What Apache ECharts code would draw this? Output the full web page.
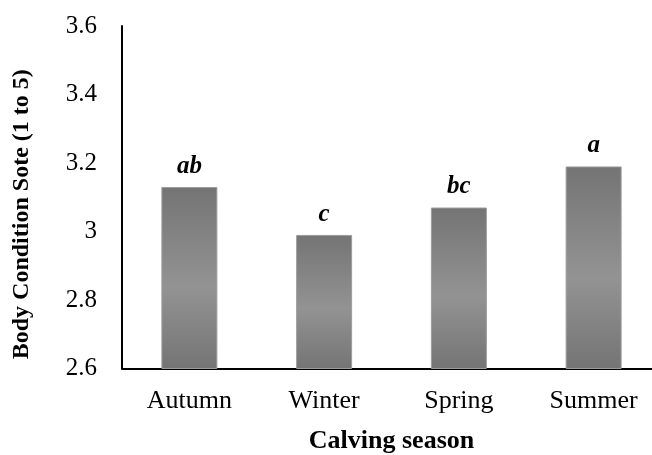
<!DOCTYPE html>
<html>
<head>
<meta charset="utf-8">
<script src="https://cdn.jsdelivr.net/npm/echarts@6/dist/echarts.min.js"></script>
<style>
  html, body { margin: 0; padding: 0; background: #fff; }
  #chart { width: 652px; height: 455px; }
</style>
</head>
<body>
<div id="chart"></div>
<script>
// Body condition score by calving season, with significance letters
const seasons = ['Autumn', 'Winter', 'Spring', 'Summer'];
const bcsValues = [3.13, 2.99, 3.07, 3.19];
const sigLetters = ['ab', 'c', 'bc', 'a'];
const yTicks = { min: 2.6, max: 3.6, interval: 0.2 };

const serif = '"Liberation Serif", "Times New Roman", serif';

const chart = echarts.init(document.getElementById('chart'), null, { renderer: 'canvas' });

const barFill = {
  type: 'linear', x: 0, y: 0, x2: 0, y2: 1,
  colorStops: [
    { offset: 0, color: '#747474' },
    { offset: 0.55, color: '#939393' },
    { offset: 1, color: '#747474' }
  ]
};

chart.setOption({
  animation: false,
  backgroundColor: '#ffffff',
  grid: {
    left: 122, top: 26, bottom: 86.5, right: -9,
    containLabel: false, outerBoundsMode: 'none'
  },
  xAxis: {
    type: 'category',
    data: seasons,
    name: 'Calving season',
    nameLocation: 'middle',
    nameGap: 60,
    nameTextStyle: { fontFamily: serif, fontWeight: 'bold', fontSize: 26, color: '#000' },
    axisLine: { show: true, lineStyle: { color: '#000', width: 2 } },
    axisTick: { show: false },
    axisLabel: { fontFamily: serif, fontSize: 26, color: '#000', margin: 20 },
    splitLine: { show: false }
  },
  yAxis: {
    type: 'value',
    min: yTicks.min,
    max: yTicks.max,
    interval: yTicks.interval,
    name: 'Body Condition Sote (1 to 5)',
    nameLocation: 'middle',
    nameGap: 88,
    nameTextStyle: {
      fontFamily: serif, fontWeight: 'bold', fontSize: 24, color: '#000',
      padding: [0, 34, 0, 0]
    },
    axisLine: { show: true, lineStyle: { color: '#000', width: 2 } },
    axisTick: { show: false },
    splitLine: { show: false },
    axisLabel: {
      fontFamily: serif, fontSize: 25, color: '#000', margin: 25,
      formatter: v => String(Math.round(v * 10) / 10)
    }
  },
  series: [{
    type: 'bar',
    data: bcsValues,
    barWidth: 56,
    itemStyle: { color: barFill, borderColor: '#9c9c9c', borderWidth: 1 },
    label: {
      show: true,
      position: 'top',
      distance: 8,
      formatter: p => sigLetters[p.dataIndex],
      fontFamily: serif,
      fontStyle: 'italic',
      fontWeight: 'bold',
      fontSize: 25,
      color: '#000'
    }
  }]
});
</script>
</body>
</html>
